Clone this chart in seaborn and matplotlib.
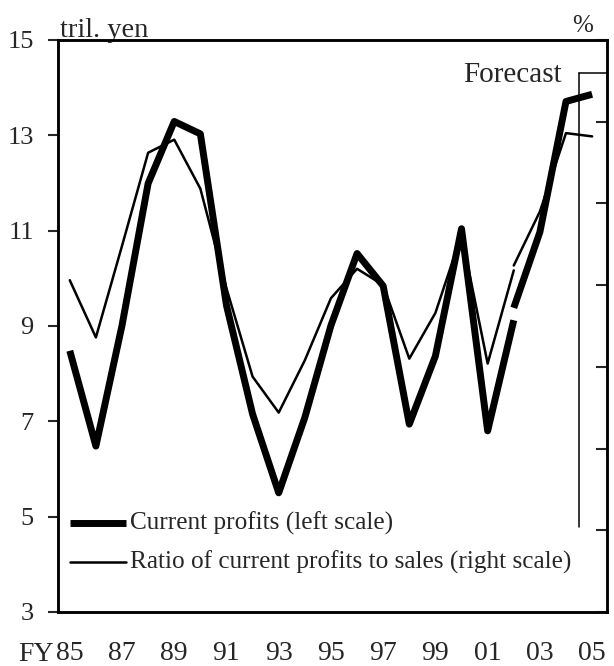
import matplotlib
matplotlib.use("Agg")
import matplotlib.pyplot as plt
import pandas as pd
import seaborn as sns

# fiscal years, old basis runs FY85-02, new basis FY02-05
years_old = list(range(85, 103))
years_new = [102, 103, 104, 105]

profits_old = [8.48, 6.48, 9.01, 11.99, 13.29, 13.03, 9.43, 7.15, 5.50, 7.08,
               9.01, 10.52, 9.84, 6.94, 8.37, 11.04, 6.80, 9.12]
profits_new = [9.38, 10.97, 13.71, 13.86]

ratio_old = [2.53, 2.18, 2.74, 3.31, 3.39, 3.09, 2.48, 1.94, 1.72, 2.04,
             2.42, 2.60, 2.50, 2.05, 2.33, 2.81, 2.02, 2.59]
ratio_new = [2.62, 2.95, 3.43, 3.41]

xtick_years = list(range(85, 106, 2))
left_ticks = [3, 5, 7, 9, 11, 13, 15]
right_ticks = [0.5, 1.0, 1.5, 2.0, 2.5, 3.0, 3.5, 4.0]

profits = pd.DataFrame({
    "year": years_old + years_new,
    "value": profits_old + profits_new,
    "basis": ["old"] * len(years_old) + ["new"] * len(years_new),
})
ratio = pd.DataFrame({
    "year": years_old + years_new,
    "value": ratio_old + ratio_new,
    "basis": ["old"] * len(years_old) + ["new"] * len(years_new),
})

sns.set_style("white")
plt.rcParams["font.family"] = ["Liberation Serif", "DejaVu Serif"]

fig = plt.figure(figsize=(6.14, 6.66), dpi=100)
ax = fig.add_axes([0.0945, 0.0811, 0.8941, 0.8589])
ax2 = ax.twinx()

for b in ["old", "new"]:
    sns.lineplot(data=profits[profits["basis"] == b], x="year", y="value",
                 ax=ax, color="black", linewidth=5, solid_capstyle="butt",
                 legend=False)
    sns.lineplot(data=ratio[ratio["basis"] == b], x="year", y="value",
                 ax=ax2, color="black", linewidth=1.8, legend=False)

ax.set_xlim(84.55, 105.57)
ax.set_ylim(3, 15)
ax2.set_ylim(0.5, 4.0)
ax.set_xlabel("")
ax.set_ylabel("")
ax2.set_ylabel("")

# left scale
ax.set_yticks(left_ticks)
ax.tick_params(axis="y", direction="out", length=7.5, width=1.5,
               labelsize=19, pad=10)
# x axis: labels every 2 years, tick marks between years
ax.set_xticks(xtick_years)
ax.set_xticklabels([f"{y % 100:02d}" for y in xtick_years])
ax.tick_params(axis="x", which="major", length=0, labelsize=20, pad=21)
ax.set_xticks([y + 0.5 for y in range(85, 105)], minor=True)
ax.tick_params(axis="x", which="minor", direction="in", length=7, width=1.5)
ax.text(-0.008, -0.085, "FY", transform=ax.transAxes, fontsize=20,
        ha="right", va="baseline")

# right scale, labels cut off in the source
ax2.set_yticks(right_ticks)
ax2.set_yticklabels([])
ax2.tick_params(axis="y", direction="in", length=8, width=1.5)

for a in (ax, ax2):
    for s in a.spines.values():
        s.set_linewidth(1.8)
        s.set_color("black")

ax.text(0.003, 1.006, "tril. yen", transform=ax.transAxes, fontsize=20.5,
        ha="left", va="baseline")
ax.text(0.955, 1.014, "%", transform=ax.transAxes, fontsize=18,
        ha="center", va="baseline")

# forecast bracket
ax.plot([104.5, 104.5], [4.79, 14.3], color="black", linewidth=1.1)
ax.plot([104.5, 105.57], [14.3, 14.3], color="black", linewidth=1.1,
        clip_on=False)
ax.text(103.85, 14.27, "Forecast", fontsize=21, ha="right", va="center")

# legend drawn by hand as in the source
ax.plot([85.0, 87.15], [4.87, 4.87], color="black", linewidth=5,
        solid_capstyle="butt")
ax.text(87.3, 4.87, "Current profits (left scale)", fontsize=18.2,
        ha="left", va="center")
ax.plot([85.0, 87.15], [4.04, 4.04], color="black", linewidth=1.8)
ax.text(87.3, 4.04, "Ratio of current profits to sales (right scale)",
        fontsize=18.2, ha="left", va="center")

fig.savefig("out.png", dpi=100)
